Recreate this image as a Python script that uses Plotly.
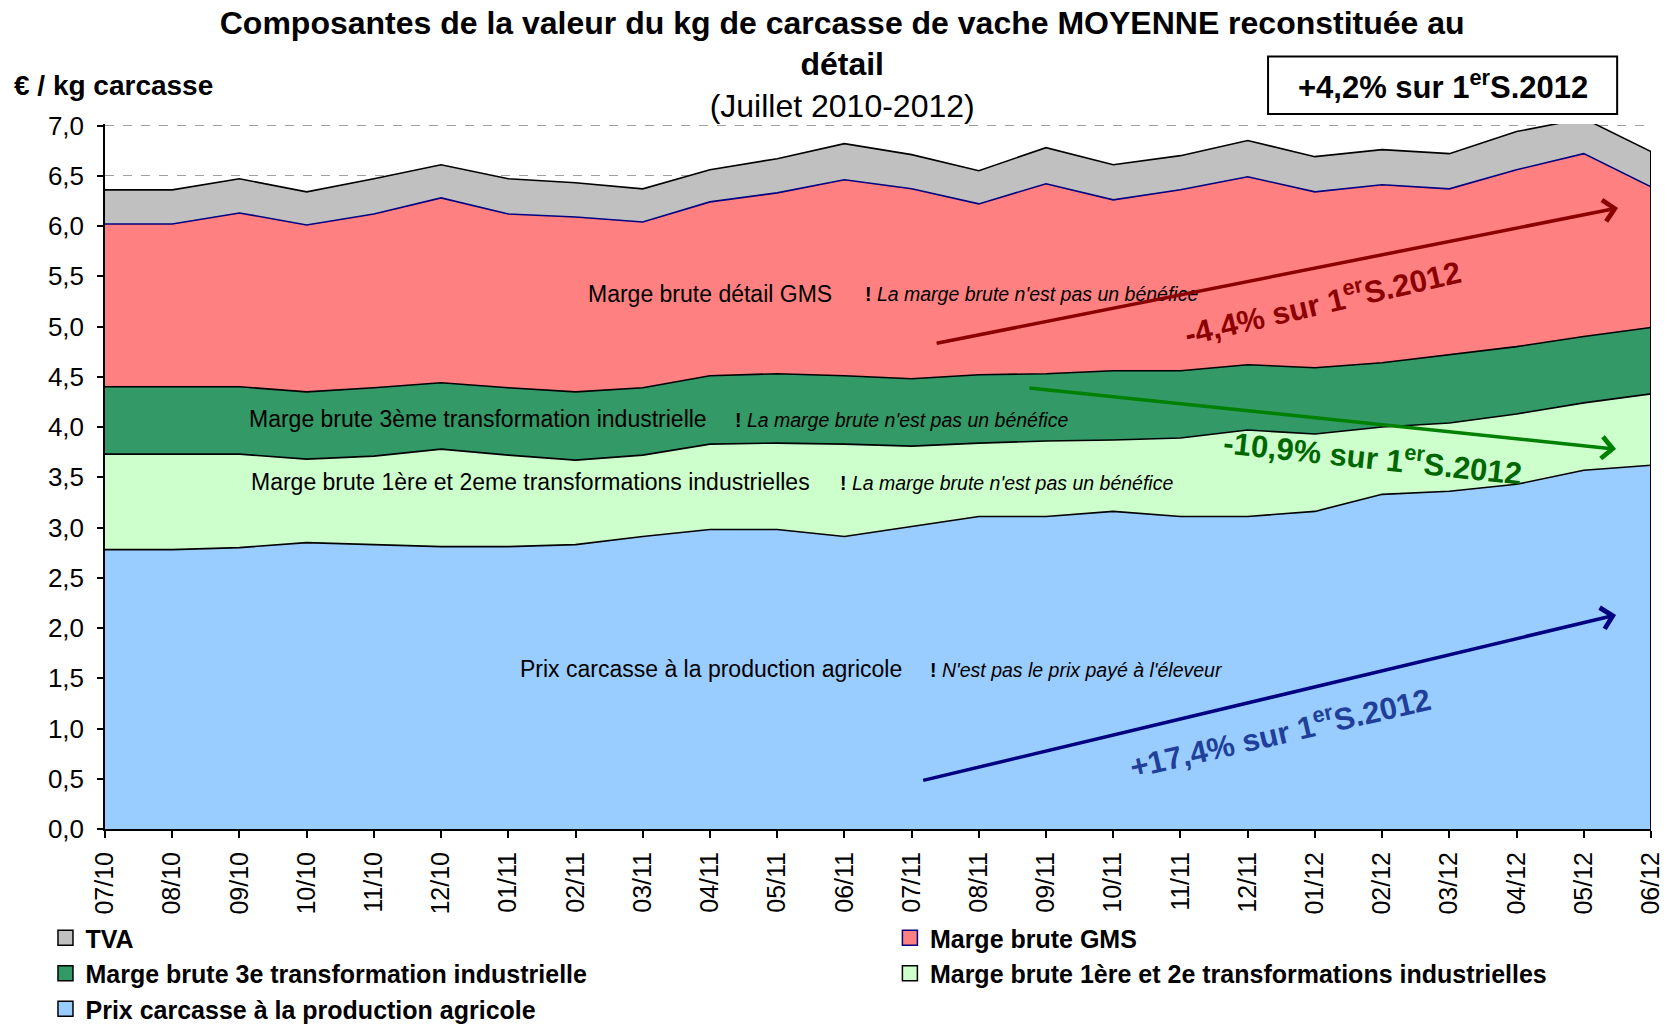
import plotly.graph_objects as go

# Months, July 2010 to June 2012
months = ["07/10", "08/10", "09/10", "10/10", "11/10", "12/10", "01/11", "02/11",
          "03/11", "04/11", "05/11", "06/11", "07/11", "08/11", "09/11", "10/11",
          "11/11", "12/11", "01/12", "02/12", "03/12", "04/12", "05/12", "06/12"]

# Components of the retail value (EUR / kg carcass), stacked from the bottom
prix_carcasse = [2.78, 2.78, 2.80, 2.85, 2.83, 2.81, 2.81, 2.83, 2.91, 2.98, 2.98, 2.91,
                 3.01, 3.11, 3.11, 3.16, 3.11, 3.11, 3.16, 3.33, 3.36, 3.43, 3.57, 3.62]
marge_1_2 = [0.95, 0.95, 0.93, 0.83, 0.88, 0.97, 0.91, 0.84, 0.81, 0.85, 0.86, 0.92,
             0.80, 0.73, 0.75, 0.71, 0.78, 0.86, 0.77, 0.67, 0.68, 0.70, 0.67, 0.71]
marge_3 = [0.67, 0.67, 0.67, 0.67, 0.68, 0.66, 0.67, 0.68, 0.67, 0.68, 0.69, 0.68,
           0.67, 0.68, 0.67, 0.69, 0.67, 0.65, 0.66, 0.64, 0.68, 0.67, 0.66, 0.66]
marge_gms = [1.62, 1.62, 1.73, 1.66, 1.73, 1.84, 1.73, 1.74, 1.65, 1.73, 1.80, 1.95,
             1.89, 1.70, 1.89, 1.70, 1.80, 1.87, 1.75, 1.77, 1.65, 1.76, 1.82, 1.40]
tva = [0.34, 0.34, 0.34, 0.33, 0.35, 0.33, 0.35, 0.34, 0.33, 0.32, 0.34, 0.36,
       0.34, 0.33, 0.36, 0.35, 0.34, 0.36, 0.35, 0.35, 0.35, 0.38, 0.35, 0.35]

series = [
    ("Prix carcasse à la production agricole", prix_carcasse, "#99CCFF", "#000000", "legend"),
    ("Marge brute 1ère et 2e transformations industrielles", marge_1_2, "#CCFFCC", "#000000", "legend2"),
    ("Marge brute 3e transformation industrielle", marge_3, "#339966", "#000000", "legend"),
    ("Marge brute GMS", marge_gms, "#FF8080", "#000080", "legend2"),
    ("TVA", tva, "#C0C0C0", "#000000", "legend"),
]

FONT = "Liberation Sans, Arial, sans-serif"

fig = go.Figure()
for name, vals, fill, edge, leg in series:
    fig.add_trace(go.Scatter(
        x=months, y=vals, name=name, mode="lines", stackgroup="one",
        fillcolor=fill, line=dict(color=edge, width=1.6),
        showlegend=False, hoverinfo="x+y+name",
    ))

# legend swatches (square boxes)
for name, vals, fill, edge, leg in series:
    fig.add_trace(go.Scatter(
        x=[None], y=[None], name=name, mode="markers", legend=leg,
        marker=dict(symbol="square", size=15, color=fill, line=dict(color=edge, width=1.5)),
    ))

# outline of the stack at the last month
total_last = sum(s[1][-1] for s in series)
fig.add_shape(type="line", xref="x", yref="y", x0=len(months) - 1, x1=len(months) - 1,
              y0=0, y1=total_last, line=dict(color="#000000", width=2))

annotations = []

def label(x, y, text, size, color="#000000", angle=0, anchor="left"):
    annotations.append(dict(x=x, y=y, xref="x", yref="y", text=text, showarrow=False,
                            xanchor=anchor, yanchor="middle", textangle=angle,
                            font=dict(family=FONT, size=size, color=color)))

note = "<b>!</b> <i>La marge brute n'est pas un bénéfice</i>"
label(7.15, 5.32, "Marge brute détail GMS", 23)
label(11.27, 5.32, note, 19.5)
label(2.11, 4.08, "Marge brute 3ème transformation industrielle", 23)
label(9.34, 4.07, note, 19.5)
label(2.14, 3.45, "Marge brute 1ère et 2eme transformations industrielles", 23)
label(10.9, 3.44, note, 19.5)
label(6.14, 1.59, "Prix carcasse à la production agricole", 23)
label(12.24, 1.58, "<b>!</b> <i>N'est pas le prix payé à l'éleveur</i>", 19.5)

def trend(x0, y0, x1, y1, color):
    annotations.append(dict(x=x1, y=y1, ax=x0, ay=y0, xref="x", yref="y", axref="x", ayref="y",
                            text="", showarrow=True, arrowhead=4, arrowsize=1.2,
                            arrowwidth=3.5, arrowcolor=color, standoff=0, startstandoff=0))

trend(12.35, 4.83, 22.51, 6.18, "#8B0000")
trend(13.73, 4.39, 22.48, 3.78, "#008000")
trend(12.15, 0.48, 22.48, 2.13, "#000080")

label(18.11, 5.25, "<b>-4,4% sur 1<sup>er</sup>S.2012</b>", 31, "#8B0000", -13, "center")
label(18.86, 3.71, "<b>-10,9% sur 1<sup>er</sup>S.2012</b>", 31, "#006600", 6, "center")
label(17.48, 0.98, "<b>+17,4% sur 1<sup>er</sup>S.2012</b>", 31, "#1F3F99", -13, "center")

# unit label and boxed headline figure
annotations.append(dict(x=-0.0599, y=1.0553, xref="paper", yref="paper", xanchor="left",
                        yanchor="middle", showarrow=False, text="<b>€ / kg carcasse</b>",
                        font=dict(family=FONT, size=28, color="#000000")))
annotations.append(dict(x=0.8652, y=1.0553, xref="paper", yref="paper", xanchor="center",
                        yanchor="middle", showarrow=False,
                        text="<b>+4,2% sur 1<sup>er</sup>S.2012</b>",
                        font=dict(family=FONT, size=31, color="#000000")))
fig.add_shape(type="rect", xref="paper", yref="paper", x0=0.7523, x1=0.9781,
              y0=1.0142, y1=1.0957, line=dict(color="#000000", width=2),
              fillcolor="#FFFFFF", layer="above")

fig.update_layout(
    width=1671, height=1027,
    margin=dict(l=105, r=20, t=124, b=198, autoexpand=False),
    paper_bgcolor="#FFFFFF", plot_bgcolor="#FFFFFF",
    separators=", ",
    font=dict(family=FONT, size=24, color="#000000"),
    title=dict(
        text="<b>Composantes de la valeur du kg de carcasse de vache MOYENNE reconstituée au<br>"
             "détail</b><br>(Juillet 2010-2012)",
        x=0.504, xanchor="center", xref="container",
        y=0.967, yanchor="top", yref="container",
        font=dict(family=FONT, size=32, color="#000000"),
    ),
    xaxis=dict(
        type="category", range=[0, len(months) - 1], automargin=False,
        showgrid=False, showline=True, linecolor="#000000", linewidth=2,
        ticks="outside", ticklen=7, tickcolor="#000000", tickwidth=1.5,
        tickangle=-90, tickfont=dict(family=FONT, size=25),
        ticklabelstandoff=4,
    ),
    yaxis=dict(
        range=[0, 7.015], dtick=0.5, tickformat=".1f", automargin=False,
        showgrid=True, gridcolor="#A0A0A0", griddash="dash", gridwidth=1,
        showline=True, linecolor="#000000", linewidth=1.5,
        ticks="outside", ticklen=6, tickcolor="#000000", tickwidth=1.5,
        tickfont=dict(family=FONT, size=26), zeroline=False,
        ticklabelstandoff=8,
    ),
    legend=dict(x=-0.0385, xanchor="left", y=0.109, yanchor="top", yref="container",
                orientation="v", traceorder="reversed", bgcolor="rgba(0,0,0,0)",
                font=dict(family=FONT, size=25, weight="bold")),
    legend2=dict(x=0.5077, xanchor="left", y=0.109, yanchor="top", yref="container",
                 orientation="v", traceorder="reversed", bgcolor="rgba(0,0,0,0)",
                 font=dict(family=FONT, size=25, weight="bold")),
    annotations=annotations,
    showlegend=True,
)

fig.write_html("out.html")
